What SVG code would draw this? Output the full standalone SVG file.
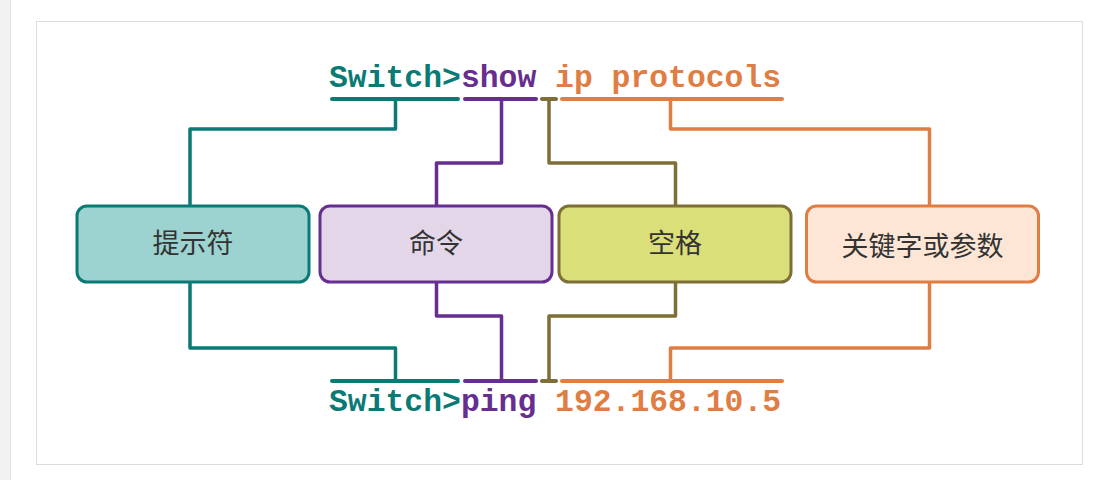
<svg xmlns="http://www.w3.org/2000/svg" width="1107" height="480" viewBox="0 0 1107 480">
<style>
.cmd{font-family:"Liberation Mono","Courier New",monospace;font-weight:bold;font-size:31.4px}
.lbl{font-family:"Noto Sans CJK SC","Noto Sans",sans-serif;font-size:27px;fill:#333;text-anchor:middle}
.ln{fill:none;stroke-width:3.5;stroke-linejoin:round}
.ul{fill:none;stroke-width:4;stroke-linecap:round}
.box{stroke-width:3}
.teal{stroke:#0a7a74}
.purple{stroke:#662e8f}
.olive{stroke:#7d6f36}
.orange{stroke:#e07d43}
</style>
<rect x="0" y="0" width="1107" height="480" fill="#ffffff"/>
<rect x="0" y="0" width="10" height="480" fill="#f2f2f2"/>
<line x1="10.5" y1="0" x2="10.5" y2="480" stroke="#e0e0e0"/>
<rect x="36.5" y="21.5" width="1046" height="443" fill="#ffffff" stroke="#dddddd"/>

<g id="connectors">
  <line class="ul teal" x1="332" y1="99" x2="458" y2="99"/>
  <line class="ul purple" x1="465" y1="99" x2="536" y2="99"/>
  <line class="ul olive" x1="542" y1="99" x2="556" y2="99"/>
  <line class="ul orange" x1="562" y1="99" x2="782" y2="99"/>
  <polyline class="ln teal" points="395.5,99 395.5,129 190,129 190,206"/>
  <polyline class="ln purple" points="501.5,99 501.5,163 436.5,163 436.5,206"/>
  <polyline class="ln olive" points="549,99 549,163 675.5,163 675.5,206"/>
  <polyline class="ln orange" points="670.5,99 670.5,129 929.5,129 929.5,206"/>

  <line class="ul teal" x1="332" y1="381" x2="458" y2="381"/>
  <line class="ul purple" x1="465" y1="381" x2="536" y2="381"/>
  <line class="ul olive" x1="542" y1="381" x2="556" y2="381"/>
  <line class="ul orange" x1="562" y1="381" x2="782" y2="381"/>
  <polyline class="ln teal" points="190,282 190,348 395.5,348 395.5,381"/>
  <polyline class="ln purple" points="436.5,282 436.5,316 501.5,316 501.5,381"/>
  <polyline class="ln olive" points="675.5,282 675.5,316 549,316 549,381"/>
  <polyline class="ln orange" points="929.5,282 929.5,348 670.5,348 670.5,381"/>
</g>

<g id="cmd-top">
  <text class="cmd" x="329" y="87"><tspan fill="#0a7a74">Switch&gt;</tspan><tspan fill="#662e8f">show</tspan><tspan fill="#e07d43"> ip protocols</tspan></text>
</g>
<g id="cmd-bottom">
  <text class="cmd" x="329" y="411"><tspan fill="#0a7a74">Switch&gt;</tspan><tspan fill="#662e8f">ping</tspan><tspan fill="#e07d43"> 192.168.10.5</tspan></text>
</g>

<g id="node-prompt">
  <rect class="box teal" x="77" y="206" width="232" height="76" rx="10" fill="#9cd3d1"/>
  <text class="lbl" x="193" y="253">提示符</text>
</g>
<g id="node-command">
  <rect class="box purple" x="320" y="206" width="232" height="76" rx="10" fill="#e2d6e8"/>
  <text class="lbl" x="436" y="253">命令</text>
</g>
<g id="node-space">
  <rect class="box olive" x="559" y="206" width="232" height="76" rx="10" fill="#dadf7a"/>
  <text class="lbl" x="675" y="253">空格</text>
</g>
<g id="node-keyword">
  <rect class="box orange" x="806.5" y="206" width="232" height="76" rx="10" fill="#fde6d6"/>
  <text class="lbl" x="922.5" y="256">关键字或参数</text>
</g>
</svg>
